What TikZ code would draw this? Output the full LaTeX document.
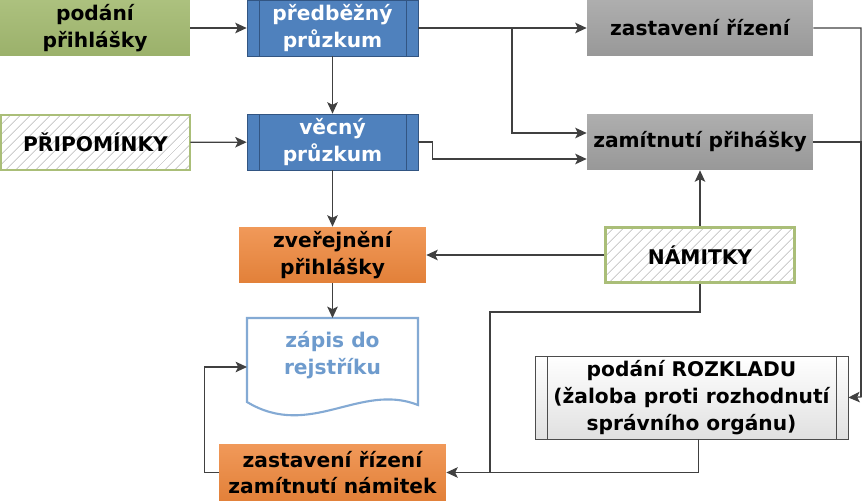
\documentclass[tikz,border=0pt]{standalone}
\usepackage{fontspec}
\setmainfont{DejaVu Sans}
\usetikzlibrary{positioning,arrows.meta,calc,patterns.meta}
\definecolor{podgreen}{RGB}{163,186,112}
\definecolor{hgreen}{RGB}{170,190,120}
\definecolor{procblue}{RGB}{79,129,189}
\definecolor{blueline}{RGB}{50,85,130}
\definecolor{stopgray}{RGB}{160,160,160}
\definecolor{pubor}{RGB}{238,135,60}
\definecolor{zapblue}{RGB}{110,155,205}
\definecolor{linegray}{RGB}{64,64,64}

\begin{document}
\begin{tikzpicture}[
  x=0.02cm, y=-0.02cm,
  font=\fontsize{11.5}{15.3}\selectfont\bfseries, >={Stealth[length=6.5pt,width=6pt,inset=1.5pt]},
  box/.style={align=center,inner sep=0pt,minimum height=1.12cm},
  bars/.style={path picture={
    \draw[#1] ([xshift=0.24cm]path picture bounding box.north west) -- ([xshift=0.24cm]path picture bounding box.south west)
              ([xshift=-0.24cm]path picture bounding box.north east) -- ([xshift=-0.24cm]path picture bounding box.south east);}},
  start/.style={box,top color=podgreen!90!white,bottom color=podgreen!95!black,minimum width=3.80cm},
  proc/.style={box,draw=blueline,fill=procblue,text=white,minimum width=3.42cm,bars=blueline},
  stopbox/.style={box,top color=stopgray!85!white,bottom color=stopgray!95!black,minimum width=4.52cm},
  hatch/.style={box,draw=hgreen,line width=1.6pt,preaction={fill=white},
    pattern={Lines[angle=45,distance=4pt,line width=0.4pt]},pattern color=black!28,
    minimum width=3.78cm,minimum height=1.10cm},
  pub/.style={box,top color=pubor!85!white,bottom color=pubor!95!black},
  appeal/.style={box,draw=black!70,top color=white,bottom color=black!12,
    minimum width=6.26cm,minimum height=1.66cm,bars=black!70},
  docline/.style={draw=zapblue!85,line width=1.2pt,fill=white},
  conn/.style={draw=linegray,line width=0.7pt},
  flow/.style={conn,->},
]
\useasboundingbox (0,0) rectangle (863,504);

% first column
\node[start] (podani) at (95,28) {podání\\přihlášky};
\node[hatch] (prip) at (95.5,142.5) {PŘIPOMÍNKY};

% procedure
\node[proc] (predb) at (332.5,28) {předběžný\\průzkum};
\node[proc] (vecny) at (332.5,142) {věcný\\průzkum};
\node[pub,minimum width=3.74cm] (zver) at (332.5,255) {zveřejnění\\přihlášky};
\draw[docline] (247,318) -- (418,318) -- (418,405)
  .. controls (360,382) and (310,440) .. (247,402) -- cycle;
\node[text=zapblue,align=center] (zapis) at (332.5,355) {zápis do\\rejstříku};
\coordinate (zapisN) at (332.5,318);
\coordinate (zapisW) at (247,367);
\node[pub,minimum width=4.54cm,minimum height=1.14cm] (zastnam) at (332.5,472.5) {zastavení řízení\\zamítnutí námitek};

% right side
\node[stopbox] (zast) at (700,28) {zastavení řízení};
\node[stopbox] (zamit) at (700,142) {zamítnutí přihášky};
\node[hatch] (nam) at (700,255) {NÁMITKY};
\node[appeal] (rozk) at (691.5,397.5) {podání ROZKLADU\\(žaloba proti rozhodnutí\\správního orgánu)};

\coordinate (jb) at (512,28);
\coordinate (jn) at (490,312);
\coordinate (jr) at (861,397);

\draw[flow] (podani) -- (predb);
\draw[flow] (prip) -- (vecny);
\draw[flow] (predb) -- (zast);
\draw[flow] (jb) |- ([yshift=0.18cm]zamit.west);
\draw[flow] (predb) -- (vecny);
\draw[flow] (vecny.east) -- ++(14,0) |- ([yshift=-0.34cm]zamit.west);
\draw[flow] (vecny) -- (zver);
\draw[flow] (zver) -- (zapisN);
\draw[flow] (nam) -- (zver);
\draw[flow] (nam) -- (zamit);
\draw[flow] (nam.south) |- (jn) |- (zastnam.east);
\draw[conn] ([xshift=0.14cm]rozk.south) |- (jn |- zastnam.east);
\draw[flow] (zastnam.west) -- ++(-14,0) |- (zapisW);
\draw[flow] (zast.east) -| (jr) -- (rozk.east);
\draw[conn] (zamit.east) -| (jr);
\end{tikzpicture}
\end{document}
